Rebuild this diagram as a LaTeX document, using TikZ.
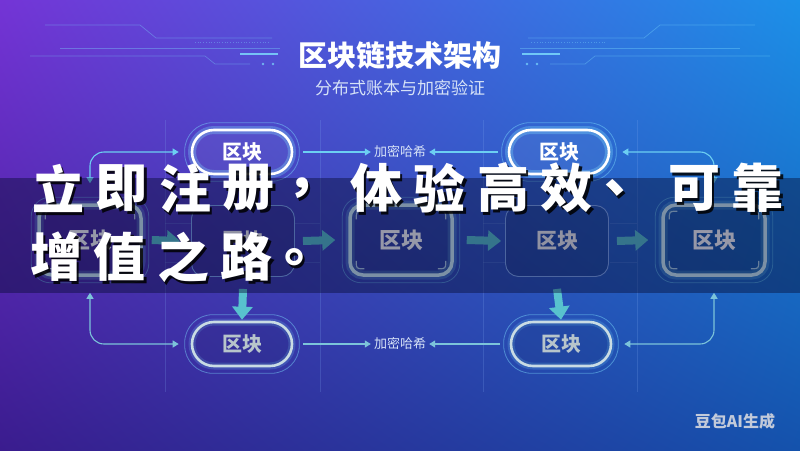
\documentclass[tikz,border=0pt]{standalone}
\usepackage{fontspec}
\setmainfont{Noto Sans CJK SC}
\usetikzlibrary{arrows.meta,shadings}
\definecolor{bgTL}{HTML}{7434D6}
\definecolor{bgTR}{HTML}{1C90E8}
\definecolor{bgBL}{HTML}{3A1C8E}
\definecolor{bgBR}{HTML}{1452AC}
\definecolor{glowc}{HTML}{7FE0FF}
\definecolor{linkc}{HTML}{6CCFF2}
\definecolor{linkb}{HTML}{7CC4DA}
\definecolor{tealarrow}{HTML}{58C2CE}
\definecolor{subc}{HTML}{D6E2F7}
\definecolor{boxline}{HTML}{D0F2FA}
\definecolor{botline}{HTML}{C9DCE4}
\definecolor{gridc}{HTML}{7FA8F0}
\definecolor{wmark}{HTML}{C2CADA}
\definecolor{bandc}{HTML}{060A30}
\begin{document}
\begin{tikzpicture}[x=1pt,y=-1pt,
  toppill/.style={draw=white, line width=2.6pt, rounded corners=22pt,
    minimum width=100pt, minimum height=44pt, inner sep=0pt,
    fill=white, fill opacity=0.06, text opacity=1, text=white,
    font=\bfseries\fontsize{20}{20}\selectfont,
    preaction={draw=glowc, line width=8pt, draw opacity=0.3, fill=none}},
  botpill/.style={draw=botline, line width=2.6pt, rounded corners=22pt,
    minimum width=100pt, minimum height=44pt, inner sep=0pt,
    fill=black, fill opacity=0.08, text opacity=1, text=botline!75!gray,
    font=\bfseries\fontsize{20}{20}\selectfont,
    preaction={draw=glowc, line width=7pt, draw opacity=0.18, fill=none}},
  thickbox/.style={draw=boxline, line width=3.5pt, rounded corners=13pt,
    minimum width=102pt, minimum height=70pt, inner sep=0pt,
    fill=black, fill opacity=0.12, text opacity=1, text=white,
    font=\bfseries\fontsize{22}{22}\selectfont,
    preaction={draw=glowc, line width=9pt, draw opacity=0.25, fill=none}},
  thinbox/.style={draw=gridc, line width=0.9pt, rounded corners=13pt,
    minimum width=103pt, minimum height=71pt, inner sep=0pt,
    fill=black, fill opacity=0.12, text opacity=1, text=white!92!gray,
    font=\bfseries\fontsize{21}{21}\selectfont},
  ring/.style={draw=glowc, line width=0.8pt, draw opacity=0.45},
  hashlabel/.style={text=subc, font=\fontsize{13}{13}\selectfont, inner sep=3pt},
  link/.style={draw=linkc, line width=1.1pt},
  linkbot/.style={draw=linkb, line width=1.1pt},
  onetip/.style={-{Triangle[width=7pt,length=6pt]}},
  twotips/.style={{Triangle[width=7pt,length=6pt]}-{Triangle[width=7pt,length=6pt]}},
  blockarrow/.style={draw=tealarrow, line width=8pt, -{Triangle[width=20pt,length=13pt]}},
  gridline/.style={draw=gridc, line width=0.6pt, draw opacity=0.22},
  deco/.style={draw=glowc, line width=0.7pt, draw opacity=0.35},
  bigtext/.style={text=white, inner sep=0pt, font=\bfseries\fontsize{52}{52}\selectfont},
  bigshadow/.style={text=black, text opacity=0.85, inner sep=0pt, font=\bfseries\fontsize{52}{52}\selectfont}
]
\useasboundingbox (0,0) rectangle (800,450);
\shade[upper left=bgTL, upper right=bgTR, lower left=bgBL, lower right=bgBR] (0,0) rectangle (800,450);

% title decorations (left, then mirrored right)
\foreach \m in {0,1}{
\begin{scope}[xshift=\m*800pt, xscale=1-2*\m]
  \draw[deco] (45,25) -- (140,25) -- (156,38) -- (272,38);
  \draw[deco, dotted, line width=1pt] (195,42) -- (270,42);
  \draw[deco] (60,48) -- (280,48);
  \draw[deco] (30,56) -- (205,56) -- (215,64) -- (250,64);
  \draw[draw=glowc, line width=2.2pt, draw opacity=0.8] (240,54) -- (278,54);
  \fill[glowc, opacity=0.7] (263,64) circle (1.3pt) (273,64) circle (1.3pt);
\end{scope}
}

% title
\node[text=white, font=\bfseries\fontsize{29}{29}\selectfont] (title) at (400,55) {区块链技术架构};
\node[text=subc, font=\fontsize{17}{17}\selectfont] (subtitle) at (400,88) {分布式账本与加密验证};

% faint framework lines
\foreach \x in {165,320,483,637}{
  \draw[gridline] (\x,120) -- (\x,392);
}
\draw[gridline] (165,223) -- (192,223) (165,262) -- (192,262);
\draw[gridline] (295,223) -- (320,223) (295,262) -- (320,262);
\draw[gridline] (483,223) -- (505,223) (483,262) -- (505,262);
\draw[gridline] (610,223) -- (637,223) (610,262) -- (637,262);

% top pills and hash label
\node[toppill] (t1) at (242,152) {区块};
\node[toppill] (t2) at (559,152) {区块};
\node[hashlabel] (h1) at (400,152) {加密哈希};

% middle row
\node[thickbox] (b1) at (90,240) {区块};
\node[thinbox] (b2) at (243,241) {区块};
\node[thickbox] (b3) at (401,240) {区块};
\node[thinbox] (b4) at (557,241) {区块};
\node[thickbox] (b5) at (714,240) {区块};

% bottom pills and hash label
\node[botpill] (p1) at (242,344) {区块};
\node[botpill] (p2) at (561,344) {区块};
\node[hashlabel] (h2) at (400,344) {加密哈希};

% outer rings
\foreach \n in {t1,t2,p1,p2}{
  \draw[ring, rounded corners=28pt] ([shift={(-6pt,-6pt)}]\n.south west) rectangle ([shift={(6pt,6pt)}]\n.north east);
}
\foreach \n in {b1,b3,b5}{
  \draw[ring, rounded corners=19pt] ([shift={(-6pt,-6pt)}]\n.south west) rectangle ([shift={(6pt,6pt)}]\n.north east);
  \draw[draw=boxline, line width=1.2pt, draw opacity=0.8]
    ([shift={(8pt,-16pt)}]\n.north west) .. controls ([shift={(8pt,-8pt)}]\n.north west) .. ([shift={(16pt,-8pt)}]\n.north west)
    ([shift={(-8pt,-16pt)}]\n.north east) .. controls ([shift={(-8pt,-8pt)}]\n.north east) .. ([shift={(-16pt,-8pt)}]\n.north east)
    ([shift={(8pt,16pt)}]\n.south west) .. controls ([shift={(8pt,8pt)}]\n.south west) .. ([shift={(16pt,8pt)}]\n.south west)
    ([shift={(-8pt,16pt)}]\n.south east) .. controls ([shift={(-8pt,8pt)}]\n.south east) .. ([shift={(-16pt,8pt)}]\n.south east);
}

% thin connectors
\draw[link, onetip] ([xshift=10pt]t1.east) -- (h1.west);
\draw[link, onetip] ([xshift=-10pt]t2.west) -- (h1.east);
\draw[linkbot, onetip] ([xshift=10pt]p1.east) -- (h2.west);
\draw[linkbot, onetip] ([xshift=-10pt]p2.west) -- (h2.east);
\draw[link, twotips, rounded corners=14pt] ([yshift=20pt]b1.north) |- ([xshift=-12pt]t1.west);
\draw[link, twotips, rounded corners=14pt] ([yshift=20pt]b5.north) |- ([xshift=12pt]t2.east);
\draw[linkbot, twotips, rounded corners=14pt] ([yshift=-16pt]b1.south) |- ([xshift=-12pt]p1.west);
\draw[linkbot, twotips, rounded corners=14pt] ([yshift=-16pt]b5.south) |- ([xshift=12pt]p2.east);

% block arrows
\draw[blockarrow] ([xshift=9pt]b1.east) -- ([xshift=-11pt]b2.west);
\draw[blockarrow] ([xshift=8pt]b2.east) -- ([xshift=-13pt]b3.west);
\draw[blockarrow] ([xshift=13pt]b3.east) -- ([xshift=-4pt]b4.west);
\draw[blockarrow] ([xshift=8pt]b4.east) -- ([xshift=-13pt]b5.west);
\draw[blockarrow] ([yshift=-12pt]b2.south) -- ([yshift=1pt]p1.north);
\draw[blockarrow] ([yshift=-12pt]b4.south) -- ([yshift=1pt]p2.north);

% dark band
\fill[bandc, opacity=0.42] (0,178) rectangle (800,293);

% overlay text
\foreach \c [count=\i from 0] in {立,即,注,册,，,体,验,高,效,、,可,靠}{
  \node[bigshadow] (s\i) at ({58+63.6*\i+2.5},{188+3}) {\c};
  \node[bigtext] (c\i) at ({58+63.6*\i},188) {\c};
}
\foreach \c [count=\i from 0] in {增,值,之,路,。}{
  \node[bigshadow] (v\i) at ({56+63.6*\i+2.5},{257+3}) {\c};
  \node[bigtext] (u\i) at ({56+63.6*\i},257) {\c};
}

% watermark
\node[text=wmark, font=\bfseries\fontsize{16}{16}\selectfont] (wm) at (735,421) {豆包AI生成};
\end{tikzpicture}
\end{document}
